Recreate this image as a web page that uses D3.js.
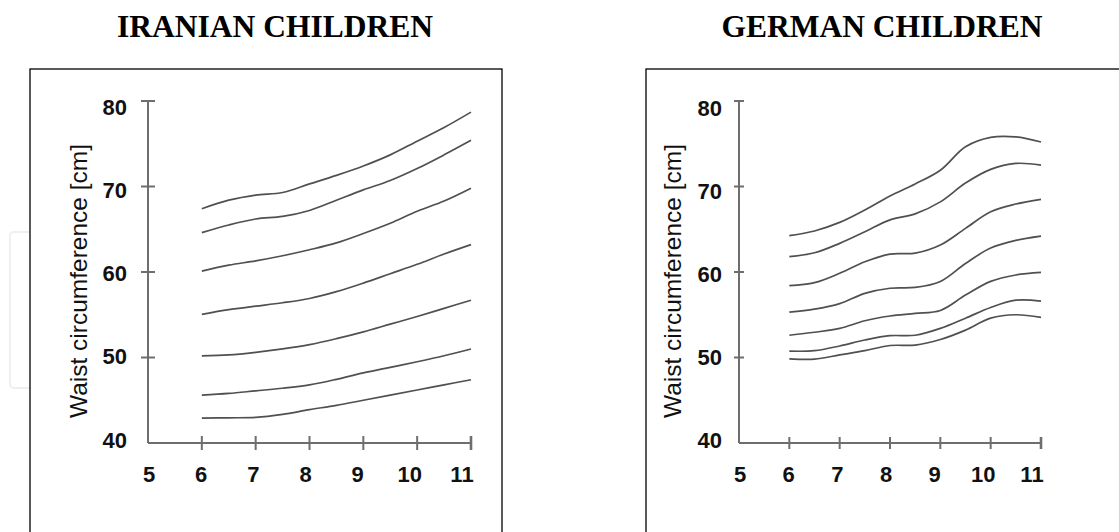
<!DOCTYPE html>
<html>
<head>
<meta charset="utf-8">
<script src="https://cdn.jsdelivr.net/npm/d3@7"></script>
<style>
  body { margin: 0; background: #fff; }
  svg { display: block; }
</style>
</head>
<body>
<svg id="chart" width="1119" height="532"></svg>
<script>
// Age (years) at which each percentile curve is sampled
const ages = [6, 6.5, 7, 7.5, 8, 8.5, 9, 9.5, 10, 10.5, 11];
const xTicks = [5, 6, 7, 8, 9, 10, 11];
const yTicks = [40, 50, 60, 70, 80];
const yTitle = "Waist circumference [cm]";

// Iranian children, waist circumference percentiles (cm)
const iranP97 = [67.4, 68.4, 69.0, 69.3, 70.3, 71.3, 72.4, 73.7, 75.3, 76.9, 78.7];
const iranP90 = [64.6, 65.5, 66.2, 66.5, 67.2, 68.4, 69.6, 70.7, 72.1, 73.7, 75.4];
const iranP75 = [60.1, 60.8, 61.3, 61.9, 62.6, 63.4, 64.5, 65.7, 67.1, 68.3, 69.8];
const iranP50 = [55.05, 55.6, 56.0, 56.4, 56.9, 57.7, 58.7, 59.8, 60.9, 62.1, 63.2];
const iranP25 = [50.2, 50.3, 50.6, 51.0, 51.5, 52.2, 53.0, 53.9, 54.8, 55.75, 56.7];
const iranP10 = [45.6, 45.8, 46.1, 46.4, 46.8, 47.45, 48.2, 48.85, 49.5, 50.2, 51.0];
const iranP3  = [42.9, 42.95, 43.0, 43.35, 43.9, 44.4, 45.0, 45.6, 46.2, 46.8, 47.4];

// German children, waist circumference percentiles (cm)
const gerP97 = [64.25, 64.8, 65.8, 67.25, 68.9, 70.3, 71.9, 74.65, 75.75, 75.8, 75.2];
const gerP90 = [61.8, 62.25, 63.35, 64.7, 66.1, 66.8, 68.2, 70.4, 72.0, 72.7, 72.5];
const gerP75 = [58.4, 58.75, 59.85, 61.2, 62.1, 62.2, 63.15, 65.1, 67.05, 67.95, 68.5];
const gerP50 = [55.3, 55.65, 56.3, 57.5, 58.1, 58.2, 58.9, 61.0, 62.8, 63.7, 64.2];
const gerP25 = [52.6, 52.95, 53.4, 54.3, 54.85, 55.15, 55.5, 57.3, 58.9, 59.65, 59.95];
const gerP10 = [50.75, 50.8, 51.35, 52.05, 52.55, 52.6, 53.4, 54.6, 55.85, 56.7, 56.6];
const gerP3  = [49.85, 49.8, 50.3, 50.8, 51.4, 51.45, 52.1, 53.2, 54.6, 55.0, 54.7];

const svg = d3.select("#chart");
const axisColor = "#6e6e6e";
const curveColor = "#505050";

// faint side tab behind the left panel
svg.append("rect")
  .attr("x", 10).attr("y", 232).attr("width", 40).attr("height", 156)
  .attr("rx", 4)
  .attr("fill", "none").attr("stroke", "#efefef").attr("stroke-width", 2);

function drawPanel(cfg) {
  const g = svg.append("g");

  // panel frame (runs off the bottom / right edge of the page)
  g.append("rect")
    .attr("x", cfg.box[0]).attr("y", cfg.box[1])
    .attr("width", cfg.box[2]).attr("height", cfg.box[3])
    .attr("fill", "#fff").attr("stroke", "#000").attr("stroke-width", 1.3);

  g.append("text")
    .attr("x", cfg.titleX).attr("y", 37)
    .attr("text-anchor", "middle")
    .attr("font-family", "'Liberation Serif', 'DejaVu Serif', serif")
    .attr("font-weight", "bold").attr("font-size", 31.5)
    .text(cfg.title);

  const x = d3.scaleLinear().domain([5, 11]).range(cfg.xRange);
  const y = d3.scaleLinear().domain([40, 80]).range(cfg.yRange);
  const xLab = d3.scaleLinear().domain([5, 11]).range(cfg.xLabelRange);
  const yLab = d3.scaleLinear().domain([40, 80]).range(cfg.yLabelRange);

  const ax = g.append("g").attr("stroke", axisColor).attr("stroke-width", 2);
  ax.append("line")
    .attr("x1", x(5)).attr("x2", x(5)).attr("y1", y(40)).attr("y2", y(80));
  ax.append("line")
    .attr("x1", x(5)).attr("x2", x(11)).attr("y1", y(40)).attr("y2", y(40));
  ax.selectAll(".yt").data(yTicks.slice(1)).join("line")
    .attr("x1", d => x(5) - cfg.yTick).attr("x2", d => x(5) + cfg.yTick)
    .attr("y1", d => y(d)).attr("y2", d => y(d));
  ax.selectAll(".xt").data(xTicks.slice(1)).join("line")
    .attr("x1", d => x(d)).attr("x2", d => x(d))
    .attr("y1", y(40) - cfg.xTick).attr("y2", y(40) + cfg.xTick)
    .attr("stroke-width", d => d === 11 ? 2.6 : 2);

  const lab = g.append("g")
    .attr("font-family", "'Liberation Sans', Arial, sans-serif")
    .attr("font-weight", "bold").attr("font-size", 22).attr("fill", "#111");
  lab.selectAll(".yl").data(yTicks).join("text")
    .attr("x", cfg.yLabelX).attr("y", d => yLab(d))
    .attr("text-anchor", "end").attr("dominant-baseline", "central")
    .text(d => d);
  lab.selectAll(".xl").data(xTicks).join("text")
    .attr("x", d => xLab(d)).attr("y", 474)
    .attr("text-anchor", "middle").attr("dominant-baseline", "central")
    .text(d => d);

  g.append("text")
    .attr("transform", `translate(${cfg.yTitleX},281) rotate(-90)`)
    .attr("text-anchor", "middle").attr("dominant-baseline", "central")
    .attr("font-family", "'Liberation Sans', Arial, sans-serif")
    .attr("font-size", 24.5).attr("fill", "#111")
    .text(yTitle);

  const line = d3.line()
    .x((d, i) => x(ages[i]))
    .y(d => y(d))
    .curve(d3.curveCatmullRom.alpha(0.5));

  g.append("g").selectAll("path").data(cfg.series).join("path")
    .attr("d", d => line(d))
    .attr("fill", "none").attr("stroke", curveColor).attr("stroke-width", 1.7);
}

drawPanel({
  title: "IRANIAN CHILDREN", titleX: 275,
  box: [30, 69, 472, 500],
  xRange: [148, 471], yRange: [443, 101],
  xLabelRange: [149, 462], yLabelRange: [440, 107],
  yLabelX: 127, yTitleX: 78, yTick: 7, xTick: 7,
  series: [iranP97, iranP90, iranP75, iranP50, iranP25, iranP10, iranP3]
});

drawPanel({
  title: "GERMAN CHILDREN", titleX: 882,
  box: [646, 69, 520, 500],
  xRange: [739, 1041], yRange: [443, 101],
  xLabelRange: [740, 1032], yLabelRange: [440, 108],
  yLabelX: 722, yTitleX: 672, yTick: 5, xTick: 6,
  series: [gerP97, gerP90, gerP75, gerP50, gerP25, gerP10, gerP3]
});
</script>
</body>
</html>
